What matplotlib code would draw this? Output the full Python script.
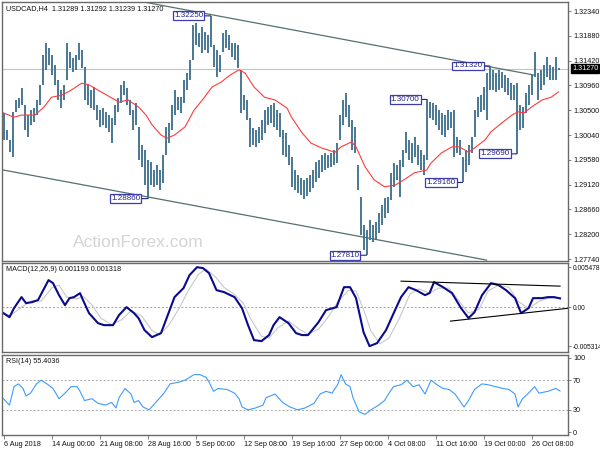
import matplotlib
matplotlib.use("Agg")
import matplotlib.pyplot as plt

plt.rcParams['font.family'] = ['Liberation Sans', 'DejaVu Sans']

# H4 price bars (each entry spans two H4 bars)
bar_high = [
    1.3045, 1.3013, 1.2995, 1.3047, 1.3069, 1.3073, 1.3091, 1.3060, 1.3041, 1.3050,
    1.3054, 1.3069, 1.3097, 1.3152, 1.3175, 1.3165, 1.3152, 1.3134, 1.3106, 1.3087,
    1.3097, 1.3175, 1.3158, 1.3147, 1.3152, 1.3175, 1.3162, 1.3130, 1.3097, 1.3087,
    1.3093, 1.3060, 1.3050, 1.3054, 1.3047, 1.3041, 1.3035, 1.3060, 1.3073, 1.3097,
    1.3104, 1.3091, 1.3069, 1.3050, 1.3063, 1.3019, 1.2985, 1.2976, 1.2958, 1.2954,
    1.2939, 1.2948, 1.2939, 1.2967, 1.3019, 1.3026, 1.3060, 1.3087, 1.3074, 1.3074,
    1.3106, 1.3119, 1.3143, 1.3208, 1.3212, 1.3193, 1.3204, 1.3195, 1.3190, 1.3225,
    1.3171, 1.3162, 1.3152, 1.3193, 1.3199, 1.3190, 1.3175, 1.3175, 1.3171, 1.3125,
    1.3078, 1.3069, 1.3035, 1.3017, 1.3013, 1.3019, 1.3032, 1.3050, 1.3056, 1.3060,
    1.3063, 1.3050, 1.3045, 1.3013, 1.3008, 1.2985, 1.2963, 1.2939, 1.2930, 1.2924,
    1.2921, 1.2924, 1.2930, 1.2939, 1.2954, 1.2958, 1.2967, 1.2971, 1.2967, 1.2971,
    1.2976, 1.2989, 1.3041, 1.3069, 1.3082, 1.3060, 1.3032, 1.3019, 1.2948, 1.2889,
    1.2837, 1.2828, 1.2846, 1.2837, 1.2843, 1.2859, 1.2874, 1.2887, 1.2889, 1.2934,
    1.2952, 1.2948, 1.2958, 1.2976, 1.3010, 1.2995, 1.2989, 1.3000, 1.2985, 1.2976,
    1.2967, 1.3070, 1.3066, 1.3064, 1.3060, 1.3050, 1.3045, 1.3041, 1.3050, 1.3047,
    1.3050, 1.3000, 1.2995, 1.2963, 1.2976, 1.2985, 1.3000, 1.3050, 1.3074, 1.3078,
    1.3093, 1.3119, 1.3132, 1.3125, 1.3119, 1.3125, 1.3121, 1.3115, 1.3110, 1.3100,
    1.3097, 1.3100, 1.3060, 1.3056, 1.3082, 1.3097, 1.3115, 1.3158, 1.3119, 1.3125,
    1.3134, 1.3149, 1.3134, 1.3130, 1.3149, 1.3129,
]
bar_low = [
    1.2995, 1.2995, 1.2972, 1.2963, 1.3047, 1.3054, 1.3060, 1.3013, 1.3000, 1.3023,
    1.3028, 1.3041, 1.3060, 1.3097, 1.3125, 1.3134, 1.3115, 1.3097, 1.3069, 1.3054,
    1.3069, 1.3106, 1.3128, 1.3121, 1.3125, 1.3143, 1.3128, 1.3069, 1.3060, 1.3054,
    1.3050, 1.3032, 1.3019, 1.3023, 1.3017, 1.3010, 1.2989, 1.3023, 1.3047, 1.3063,
    1.3078, 1.3060, 1.3041, 1.3013, 1.3023, 1.2958, 1.2945, 1.2911, 1.2886, 1.2911,
    1.2908, 1.2911, 1.2902, 1.2915, 1.2967, 1.2989, 1.3013, 1.3041, 1.3050, 1.3045,
    1.3063, 1.3087, 1.3106, 1.3143, 1.3171, 1.3167, 1.3156, 1.3162, 1.3156, 1.3167,
    1.3130, 1.3112, 1.3121, 1.3158, 1.3165, 1.3162, 1.3149, 1.3143, 1.3128, 1.3045,
    1.3050, 1.3032, 1.2982, 1.2985, 1.2982, 1.2989, 1.2995, 1.3008, 1.3023, 1.3026,
    1.3019, 1.3013, 1.3000, 1.2967, 1.2963, 1.2948, 1.2908, 1.2902, 1.2896, 1.2893,
    1.2885, 1.2891, 1.2898, 1.2906, 1.2917, 1.2924, 1.2935, 1.2939, 1.2943, 1.2945,
    1.2948, 1.2952, 1.2995, 1.3023, 1.3037, 1.3019, 1.2976, 1.2971, 1.2902, 1.2818,
    1.2791, 1.2781, 1.2809, 1.2805, 1.2809, 1.2822, 1.2837, 1.2850, 1.2859, 1.2883,
    1.2908, 1.2921, 1.2889, 1.2945, 1.2971, 1.2958, 1.2952, 1.2963, 1.2948, 1.2939,
    1.2930, 1.2958, 1.3035, 1.3032, 1.3023, 1.3013, 1.3004, 1.3000, 1.3013, 1.3017,
    1.2963, 1.2971, 1.2967, 1.2916, 1.2935, 1.2948, 1.2971, 1.3000, 1.3037, 1.3047,
    1.3050, 1.3032, 1.3087, 1.3087, 1.3084, 1.3087, 1.3091, 1.3084, 1.3078, 1.3069,
    1.3069, 1.2969, 1.3013, 1.3017, 1.3045, 1.3060, 1.3078, 1.3112, 1.3069, 1.3087,
    1.3097, 1.3112, 1.3106, 1.3106, 1.3106, 1.3124,
]
BAR_STEP = 2  # H4 bars per entry

# moving average (red), bar index / price
ma_idx = [0, 7, 12, 21, 27, 32, 39, 45, 52, 57, 65, 72, 77, 83, 90, 95, 99, 105, 109,
          114, 121, 127, 134, 139, 145, 151, 157, 161, 167, 174, 181, 189, 192, 199,
          205, 212, 221, 225, 232, 235, 241, 247, 254, 261, 267, 274, 282, 285, 292,
          299, 304, 310, 314, 321, 325, 332, 339, 343, 347, 352, 359, 365, 370]
ma_val = [1.3045, 1.3037, 1.3041, 1.3041, 1.3056, 1.3074, 1.3078, 1.3087, 1.3100,
          1.3097, 1.3084, 1.3073, 1.3065, 1.3069, 1.3056, 1.3041, 1.3023, 1.3004,
          1.2998, 1.3004, 1.3019, 1.3050, 1.3074, 1.3093, 1.3102, 1.3115, 1.3125,
          1.3119, 1.3093, 1.3074, 1.3069, 1.3054, 1.3037, 1.3008, 1.2989, 1.2980,
          1.2972, 1.2982, 1.2991, 1.2982, 1.2945, 1.2921, 1.2908, 1.2911, 1.2921,
          1.2934, 1.2939, 1.2952, 1.2971, 1.2982, 1.2982, 1.2972, 1.2980, 1.2995,
          1.3010, 1.3026, 1.3041, 1.3047, 1.3045, 1.3056, 1.3069, 1.3074, 1.3084]

# swing labels
swing_idx = [96, 138, 242, 282, 306, 324, 342]
swing_price = [1.2886, 1.3225, 1.2781, 1.3070, 1.2916, 1.3132, 1.2969]

# channel lines (bar index, price)
upper_chan = ([91, 354], [1.3252, 1.3115])
lower_chan = ([0, 322], [1.2939, 1.2772])
last_price = 1.3127

price_ticks = [1.32340, 1.31880, 1.31420, 1.30960, 1.30500, 1.30040,
               1.29580, 1.29120, 1.28660, 1.28200, 1.27740]

# MACD main line
macd_idx = [0, 4, 7, 12, 15, 19, 23, 30, 33, 37, 41, 44, 47, 51, 53, 57, 63, 67, 73,
            77, 82, 87, 90, 94, 99, 105, 110, 114, 120, 124, 129, 133, 137, 142, 147,
            154, 159, 163, 167, 172, 177, 180, 184, 190, 195, 199, 203, 210, 215, 222,
            227, 231, 235, 240, 244, 249, 255, 261, 265, 270, 275, 281, 284, 287, 293,
            299, 305, 310, 314, 319, 325, 330, 335, 341, 345, 350, 353, 359, 363, 367, 371]
macd_val = [-0.00082, -0.00137, -0.00014, 0.00137, 0.00055, 0.00068, 0.00096, 0.00369,
            0.00328, 0.00164, 0.00027, 0.00123, 0.00137, 0.00191, 0.00096, -0.00082,
            -0.00219, -0.00246, -0.00246, -0.00109, 0.0, -0.00082, -0.00150, -0.00314,
            -0.00410, -0.00355, -0.00082, 0.00137, 0.00260, 0.00437, 0.00546, 0.00533,
            0.00464, 0.00232, 0.00205, 0.00137, -0.00014, -0.00246, -0.00451, -0.00464,
            -0.00382, -0.00246, -0.00137, -0.00219, -0.00355, -0.00382, -0.00382,
            -0.00205, -0.00041, 0.0, 0.00273, 0.00273, 0.00123, -0.00342, -0.00533,
            -0.00492, -0.00314, -0.00041, 0.00137, 0.00273, 0.00232, 0.00164, 0.00191,
            0.00342, 0.00273, 0.00191, -0.00014, -0.00150, -0.00068, 0.00164, 0.00328,
            0.00301, 0.00232, 0.00123, -0.00082, -0.00014, 0.00123, 0.00123, 0.00137,
            0.00137, 0.001193]

# MACD signal line
sig_idx = [0, 5, 12, 19, 25, 32, 37, 42, 49, 53, 59, 65, 72, 79, 85, 92, 99, 104, 110,
           117, 123, 130, 135, 141, 147, 153, 160, 165, 172, 177, 183, 190, 197, 203,
           210, 217, 223, 230, 235, 240, 245, 251, 257, 264, 271, 277, 284, 290, 297,
           303, 310, 317, 323, 330, 337, 343, 350, 357, 363, 371]
sig_val = [-0.0010, -0.0011, 0.0000, 0.0009, 0.0008, 0.0026, 0.0030, 0.0014, 0.0011,
           0.0015, 0.0003, -0.0015, -0.0024, -0.0017, -0.0005, -0.0012, -0.0032,
           -0.0038, -0.0025, -0.0002, 0.0022, 0.0045, 0.0052, 0.0042, 0.0027, 0.0019,
           0.0005, -0.0017, -0.0040, -0.0042, -0.0028, -0.0019, -0.0030, -0.0037,
           -0.0030, -0.0012, 0.0008, 0.0023, 0.0022, -0.0003, -0.0033, -0.0050,
           -0.0042, -0.0015, 0.0018, 0.0025, 0.0019, 0.0026, 0.0026, 0.0010, -0.0008,
           -0.0003, 0.0022, 0.0030, 0.0027, 0.0008, -0.0002, 0.0008, 0.0012, 0.001318]

macd_upper = ([265, 371], [0.00355, 0.00287])
macd_lower = ([298, 377], [-0.00191, -0.00014])

# RSI(14)
rsi_idx = [0, 4, 7, 10, 13, 15, 18, 22, 25, 29, 33, 37, 41, 45, 49, 51, 54, 59, 63, 68,
           72, 75, 77, 81, 85, 87, 90, 93, 97, 101, 107, 111, 117, 121, 127, 131, 135,
           137, 140, 143, 149, 154, 157, 159, 163, 168, 173, 175, 181, 186, 191, 196,
           201, 207, 211, 215, 219, 223, 225, 228, 231, 233, 237, 241, 245, 250, 254,
           257, 260, 265, 269, 273, 277, 281, 285, 289, 293, 297, 301, 304, 307, 310,
           314, 319, 323, 328, 333, 337, 341, 343, 346, 350, 354, 357, 363, 368, 371]
rsi_val = [45.0, 36.3, 61.3, 65.0, 58.8, 48.8, 52.5, 65.0, 70.0, 65.0, 58.8, 45.0, 52.5,
           61.3, 61.3, 55.0, 42.5, 45.0, 38.8, 36.3, 40.0, 32.5, 46.3, 58.8, 51.3, 40.0,
           42.5, 33.8, 30.0, 38.8, 52.5, 65.0, 67.5, 70.0, 77.5, 77.5, 73.8, 67.5, 55.0,
           58.8, 57.5, 52.5, 45.0, 33.8, 30.0, 32.5, 36.3, 46.3, 51.3, 40.0, 33.8, 30.0,
           32.5, 38.8, 51.3, 55.0, 52.5, 65.0, 77.5, 65.0, 61.3, 46.3, 27.5, 23.8, 30.0,
           36.3, 42.5, 52.5, 61.3, 63.8, 70.0, 61.3, 63.8, 51.3, 70.0, 63.8, 58.8, 57.5,
           51.3, 42.5, 33.8, 42.5, 57.5, 65.0, 63.8, 61.3, 58.8, 57.5, 51.3, 33.8, 45.0,
           52.5, 61.3, 52.5, 55.0, 58.8, 55.4]

time_labels = ['6 Aug 2018', '14 Aug 00:00', '21 Aug 08:00', '28 Aug 16:00',
               '5 Sep 00:00', '12 Sep 08:00', '19 Sep 16:00', '27 Sep 00:00',
               '4 Oct 08:00', '11 Oct 16:00', '19 Oct 00:00', '26 Oct 08:00']
LABEL_EVERY = 32  # bars between time labels

BAR_COLOR = '#42728f'
FRAME = '#6a6a6a'
FS = 5.2
XLIM = (-1, 376.3)
W, H = 600, 450


def rect(x0, y0, x1, y1):
    return [x0 / W, 1 - y1 / H, (x1 - x0) / W, (y1 - y0) / H]


def style_axes(ax, fs=FS):
    for s in ax.spines.values():
        s.set_color(FRAME)
        s.set_linewidth(1.0)
    ax.yaxis.tick_right()
    ax.tick_params(axis='y', direction='out', length=2.5, width=0.6, color=FRAME,
                   labelsize=fs, pad=1.2, labelcolor='#111111')
    ax.set_xlim(*XLIM)
    ax.set_xticks([])
    for lab in ax.get_yticklabels():
        lab.set_horizontalalignment('left')


fig = plt.figure(figsize=(6, 4.5), dpi=100)
ax = fig.add_axes(rect(2, 2, 568, 261))
ax_m = fig.add_axes(rect(2, 263, 568, 352))
ax_r = fig.add_axes(rect(2, 355, 568, 435))

# main price panel
bar_x = [BAR_STEP * i for i in range(len(bar_high))]
ax.axhline(last_price, color='#c4c4c4', lw=0.8, zorder=0)
ax.vlines(bar_x, bar_low, bar_high, color=BAR_COLOR, lw=1.35, zorder=2)
ax.plot(ma_idx, ma_val, color='#ff3b3b', lw=0.8, zorder=3)
ax.plot(*upper_chan, color='#557070', lw=0.9, zorder=1)
ax.plot(*lower_chan, color='#557070', lw=0.9, zorder=1)
ax.set_ylim(1.27703, 1.32507)
ax.set_yticks(price_ticks)
ax.set_yticklabels([f'{p:.5f}' for p in price_ticks])
style_axes(ax)
for i, p in zip(swing_idx, swing_price):
    ax.annotate(f'{p:.5f}', xy=(i, p), xytext=(-7, 0), textcoords='offset pixels',
                ha='right', va='center', fontsize=FS + 0.6, color='#22228a',
                bbox=dict(boxstyle='square,pad=0.12', fc='white', ec='#3c3caa', lw=0.9),
                arrowprops=dict(arrowstyle='-', color='#22228a', lw=0.8,
                                shrinkA=0, shrinkB=0), zorder=5)
ax.annotate(f'{last_price:.5f}', xy=(1, last_price),
            xycoords=('axes fraction', 'data'), xytext=(4, 0), textcoords='offset pixels',
            ha='left', va='center', fontsize=FS, color='white',
            bbox=dict(boxstyle='square,pad=0.12', fc='black', ec='black'),
            annotation_clip=False)
ax.text(0.007, 0.99, 'USDCAD,H4  1.31289 1.31292 1.31239 1.31270',
        transform=ax.transAxes, ha='left', va='top', fontsize=FS, color='#111111')
fig.text(73 / W, 1 - 247 / H, 'ActionForex.com', fontsize=12.5, color='#d4d4d4',
         ha='left', va='baseline')

# MACD panel
ax_m.axhline(0, color='#a0a0a0', lw=0.7, ls=(0, (2, 2)))
ax_m.plot(sig_idx, sig_val, color='#c8c8c8', lw=0.8)
ax_m.plot(macd_idx, macd_val, color='#0a0a8c', lw=1.5)
ax_m.plot(*macd_upper, color='black', lw=0.8)
ax_m.plot(*macd_lower, color='black', lw=0.8)
ax_m.set_ylim(-0.00613, 0.00603)
macd_ticks = [0.005478, 0.0, -0.005314]
ax_m.set_yticks(macd_ticks)
ax_m.set_yticklabels(['0.005478', '0.00', '-0.005314'])
style_axes(ax_m, fs=4.8)
ax_m.text(0.007, 0.97, 'MACD(12,26,9) 0.001193 0.001318', transform=ax_m.transAxes,
          ha='left', va='top', fontsize=FS, color='#111111')

# RSI panel
for lv in (70, 30):
    ax_r.axhline(lv, color='#a8a8a8', lw=0.7, ls=(0, (2, 2)))
ax_r.plot(rsi_idx, rsi_val, color='#3d9bff', lw=0.8)
ax_r.set_ylim(-4, 104)
ax_r.set_yticks([100, 70, 30, 0])
ax_r.set_yticklabels(['100', '70', '30', '0'])
style_axes(ax_r)
ax_r.text(0.007, 0.96, 'RSI(14) 55.4036', transform=ax_r.transAxes,
          ha='left', va='top', fontsize=FS, color='#111111')
ax_r.set_xticks([LABEL_EVERY * i for i in range(len(time_labels))])
ax_r.set_xticklabels(time_labels)
ax_r.tick_params(axis='x', direction='out', length=3, width=0.6, color=FRAME,
                 labelsize=FS, pad=1.5, labelcolor='#111111')
for lab in ax_r.get_xticklabels():
    lab.set_horizontalalignment('left')

fig.savefig('out.png', dpi=100)
